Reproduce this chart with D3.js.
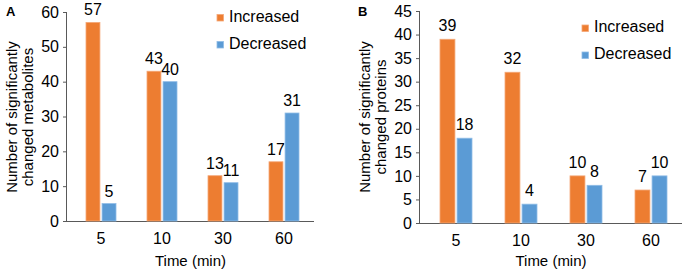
<!DOCTYPE html>
<html><head><meta charset="utf-8">
<script src="https://cdn.jsdelivr.net/npm/d3@7/dist/d3.min.js"></script>
<style>body{margin:0;background:#fff}svg{display:block;font-family:"Liberation Sans",Arial,sans-serif}</style>
</head><body>
<svg id="c" width="686" height="276"></svg>
<script>
const categories = ["5", "10", "30", "60"];
const seriesNames = ["Increased", "Decreased"];
const metIncreased = [57, 43, 13, 17];
const metDecreased = [5, 40, 11, 31];
const protIncreased = [39, 32, 10, 7];
const protDecreased = [18, 4, 8, 10];
const ticksA = [0, 10, 20, 30, 40, 50, 60];
const ticksB = [0, 5, 10, 15, 20, 25, 30, 35, 40, 45];
const colors = ["#ED7D31", "#5B9BD5"];
const strokes = ["#F4A777", "#8FBCE6"];

const svg = d3.select("#c");
const FF = "Liberation Sans, Arial, sans-serif";

function panel(o) {
  const g = svg.append("g");
  const x = d3.scaleBand().domain(categories).range(o.xr).padding(0);
  const sub = d3.scaleBand().domain(seriesNames).range([-o.bw - o.gap / 2, o.bw + o.gap / 2]).paddingInner(o.gap / (2 * o.bw + o.gap));
  const y = d3.scaleLinear().domain([0, o.max]).range(o.yr);
  const series = [o.inc, o.dec];

  // y axis
  const ya = g.append("g").attr("transform", `translate(${o.axisX},0)`)
    .call(d3.axisLeft(y).tickValues(o.ticks).tickSize(4).tickPadding(4).tickFormat(d3.format("d")));
  ya.select(".domain").attr("stroke", "#595959").attr("d", `M-0.5,${o.yr[1]}V${o.yr[0]}`);
  ya.selectAll(".tick line").attr("stroke", "#595959");
  ya.selectAll(".tick text").attr("font-size", 16).attr("fill", "#000").attr("font-family", FF);

  // x axis
  const xa = g.append("g").attr("transform", `translate(0,${o.yr[0]})`)
    .call(d3.axisBottom(x).tickSize(0).tickPadding(12));
  xa.select(".domain").attr("stroke", "#595959").attr("d", `M${o.axisX},0.5H${o.axisEnd}`);
  xa.selectAll(".tick text").attr("font-size", 16).attr("fill", "#000").attr("font-family", FF);

  // bars
  series.forEach((vals, si) => {
    const name = seriesNames[si];
    g.selectAll(".bar" + si).data(vals).join("rect")
      .attr("x", (d, i) => x(categories[i]) + x.bandwidth() / 2 + sub(name))
      .attr("width", sub.bandwidth())
      .attr("y", d => y(d))
      .attr("height", d => y(0) - y(d))
      .attr("fill", colors[si])
      .attr("stroke", strokes[si]).attr("stroke-width", 0.8);
    g.selectAll(".lab" + si).data(vals).join("text")
      .attr("x", (d, i) => x(categories[i]) + x.bandwidth() / 2 + sub(name) + sub.bandwidth() / 2)
      .attr("y", d => y(d) - o.labOff)
      .attr("text-anchor", "middle").attr("font-size", 16).attr("fill", "#000")
      .text(d => d);
  });

  // y title
  const t = g.append("text").attr("transform", `translate(${o.titleX},${o.titleY}) rotate(-90)`)
    .attr("text-anchor", "middle").attr("font-size", 15).attr("fill", "#000");
  t.append("tspan").attr("x", 0).attr("y", 0).text(o.title1);
  t.append("tspan").attr("x", 0).attr("y", 15.5).text(o.title2);

  // x title
  g.append("text").attr("x", (o.axisX + o.axisEnd) / 2).attr("y", 266)
    .attr("text-anchor", "middle").attr("font-size", 15).attr("fill", "#000").text("Time (min)");

  // panel letter
  g.append("text").attr("x", o.letterX).attr("y", 16).attr("font-size", 13).attr("font-weight", "bold").text(o.letter);

  // legend
  seriesNames.forEach((n, i) => {
    const ly = o.legY + i * 27;
    g.append("rect").attr("x", o.legX).attr("y", ly - 7).attr("width", 6.5).attr("height", 6.5)
      .attr("fill", colors[i]).attr("stroke", strokes[i]).attr("stroke-width", 0.8);
    g.append("text").attr("x", o.legX + 12).attr("y", ly).attr("font-size", 16).attr("fill", "#000").text(n);
  });
}

panel({
  inc: metIncreased, dec: metDecreased, max: 60, ticks: ticksA,
  xr: [70.5, 314.5], yr: [221, 12], axisX: 67, axisEnd: 314, bw: 13, gap: 4, labOff: 7,
  title1: "Number of significantly", title2: "changed metabolites", titleX: 17, titleY: 117,
  letter: "A", letterX: 6, legX: 217, legY: 21.5
});
panel({
  inc: protIncreased, dec: protDecreased, max: 45, ticks: ticksB,
  xr: [423.5, 683.5], yr: [223, 11], axisX: 420, axisEnd: 682, bw: 14, gap: 4, labOff: 8,
  title1: "Number of significantly", title2: "changed proteins", titleX: 370, titleY: 117,
  letter: "B", letterX: 358, legX: 582, legY: 32
});
</script>
</body></html>
